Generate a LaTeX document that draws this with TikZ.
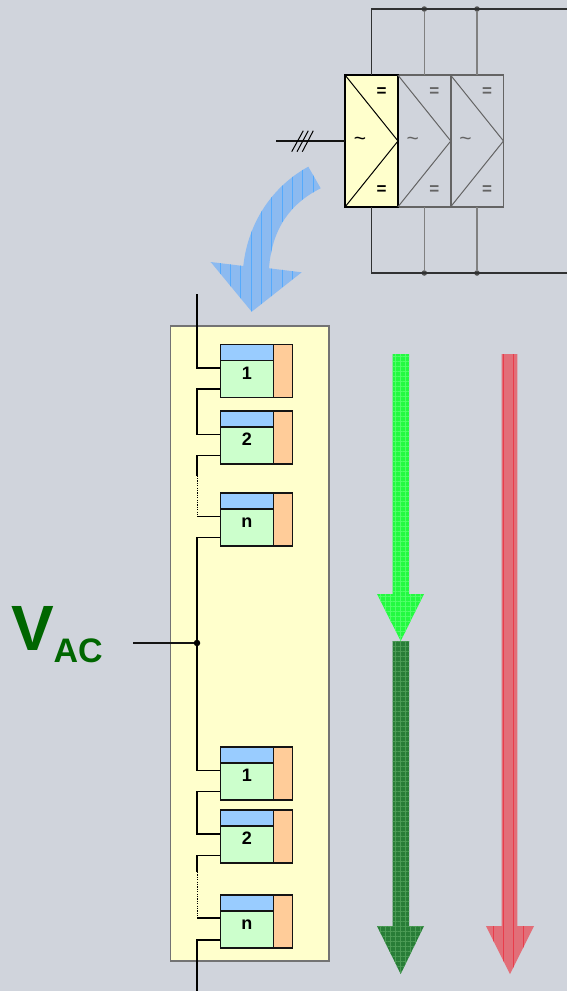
\documentclass[tikz,border=0pt]{standalone}
\usepackage{fontspec}
\setmainfont{Liberation Sans}
\usetikzlibrary{arrows.meta,positioning,patterns.meta}
\definecolor{pagegray}{RGB}{208,212,220}
\definecolor{panelyellow}{RGB}{255,255,204}
\definecolor{bodygreen}{RGB}{204,255,204}
\definecolor{headblue}{RGB}{153,204,255}
\definecolor{sideorange}{RGB}{255,204,153}
\definecolor{lineblack}{RGB}{20,20,20}
\definecolor{linegray}{RGB}{100,100,100}
\definecolor{stubgray}{RGB}{128,128,128}
\definecolor{textgreen}{RGB}{0,102,0}
\definecolor{flowgreen}{RGB}{35,250,65}
\definecolor{flowgreenlt}{RGB}{80,255,105}
\definecolor{flowdark}{RGB}{40,125,55}
\definecolor{flowdarklt}{RGB}{75,155,85}
\definecolor{flowred}{RGB}{226,110,120}
\definecolor{flowredlt}{RGB}{232,128,136}
\definecolor{flowredln}{RGB}{232,60,75}
\definecolor{flowblue}{RGB}{140,186,240}
\definecolor{flowbluelt}{RGB}{150,194,242}
\definecolor{flowblueln}{RGB}{85,170,252}
\tikzset{
  modbody/.style={rectangle, draw=lineblack, fill=bodygreen, line width=1.1pt, inner sep=0pt, outer sep=0pt, minimum width=53pt, minimum height=37pt},
  modhead/.style={rectangle, draw=lineblack, fill=headblue, line width=1.1pt, inner sep=0pt, outer sep=0pt, minimum width=53pt, minimum height=16pt},
  modside/.style={rectangle, draw=lineblack, fill=sideorange, line width=1.1pt, inner sep=0pt, outer sep=0pt, minimum width=19pt, minimum height=53pt, anchor=south west},
  modtext/.style={anchor=base, inner sep=0pt, font=\bfseries\fontsize{18}{18}\selectfont},
  busline/.style={draw=black, line width=1.6pt},
  dotbus/.style={draw=black, line width=1pt, dash pattern=on 1.2pt off 1.2pt},
  invbox/.style={rectangle, line width=1.5pt, inner sep=0pt, outer sep=0pt, minimum width=53pt, minimum height=132pt},
  invsym/.style={inner sep=0pt, font=\bfseries\fontsize{17}{17}\selectfont},
  invwave/.style={inner sep=0pt, font=\fontsize{21}{21}\selectfont},
  railline/.style={draw=lineblack!85!pagegray, line width=1.2pt},
  stubline/.style={draw=stubgray, line width=1.5pt},
  raildot/.style={circle, fill=linegray!80!black, inner sep=0pt, minimum size=5.5pt},
  greenflow/.style={preaction={fill=flowgreen}, pattern={Hatch[angle=0,distance=5pt,line width=0.8pt]}, pattern color=flowgreenlt},
  darkflow/.style={preaction={fill=flowdark}, pattern={Hatch[angle=0,distance=5pt,line width=0.8pt]}, pattern color=flowdarklt},
  redflow/.style={preaction={fill=flowred}, pattern={Lines[angle=90,distance=10.3pt,line width=0.8pt,xshift=-1.5pt]}, pattern color=flowredln},
  blueflow/.style={preaction={fill=flowblue}, pattern={Lines[angle=90,distance=10.3pt,line width=0.8pt,xshift=3.9pt]}, pattern color=flowblueln},
}

\begin{document}
\begin{tikzpicture}[x=1pt,y=-1pt]
\fill[pagegray] (0,0) rectangle (567,991);
\useasboundingbox (0,0) rectangle (567,991);

% converter stack
\node[invbox, draw=linegray] (inv3) at (477,141) {};
\node[invbox, draw=linegray] (inv2) at (424.3,141) {};
\node[invbox, draw=black, fill=panelyellow] (inv1) at (371.5,141) {};
\draw[line width=1pt] (inv1.north west) -- (inv1.east) -- (inv1.south west);
\draw[draw=linegray, line width=1pt] (inv2.north west) -- (inv2.east) -- (inv2.south west);
\draw[draw=linegray, line width=1pt] (inv3.north west) -- (inv3.east) -- (inv3.south west);
\node[invsym] (up1) at ([xshift=10pt,yshift=49pt]inv1.center) {=};
\node[invsym] (dn1) at ([xshift=10pt,yshift=-49pt]inv1.center) {=};
\node[invwave] (ac1) at ([xshift=-11.5pt]inv1.center) {\char"007E};
\node[invsym, text=linegray] (up2) at ([xshift=10pt,yshift=49pt]inv2.center) {=};
\node[invsym, text=linegray] (dn2) at ([xshift=10pt,yshift=-49pt]inv2.center) {=};
\node[invwave, text=linegray] (ac2) at ([xshift=-11.5pt]inv2.center) {\char"007E};
\node[invsym, text=linegray] (up3) at ([xshift=10pt,yshift=49pt]inv3.center) {=};
\node[invsym, text=linegray] (dn3) at ([xshift=10pt,yshift=-49pt]inv3.center) {=};
\node[invwave, text=linegray] (ac3) at ([xshift=-11.5pt]inv3.center) {\char"007E};

% dc rails
\coordinate (railtop) at (567,9);
\coordinate (railbot) at (567,273);
\node[raildot] (dottop2) at (424.3,9) {};
\node[raildot] (dottop3) at (477,9) {};
\node[raildot] (dotbot2) at (424.3,273) {};
\node[raildot] (dotbot3) at (477,273) {};
\draw[stubline] (inv2.north) -- (dottop2);
\draw[stubline] (inv3.north) -- (dottop3);
\draw[stubline] (inv2.south) -- (dotbot2);
\draw[stubline] (inv3.south) -- (dotbot3);
\draw[railline] (inv1.north) |- (railtop);
\draw[railline] (inv1.south) |- (railbot);

% three phase feed
\coordinate (feed) at (276,141);
\draw[draw=lineblack, line width=1.1pt] (feed) -- (inv1.west);
\draw[line width=1pt] (291.7,151.7) -- (303.3,130.7);
\draw[line width=1pt] (297,151.7) -- (308.3,130.7);
\draw[line width=1pt] (302.3,151.7) -- (313.3,130.7);

% curved arrow
\path[blueflow] (308.3,166.7) -- (320.7,188.3) .. controls (291,203) and (272,228) .. (269,268.3)
  -- (301.7,272.3) -- (251.7,311.7) -- (210.7,262) -- (243.3,266)
  .. controls (248,222) and (273,186) .. cycle;

% panel
\node[rectangle, draw=stubgray!90!black, fill=panelyellow, line width=1.1pt, inner sep=0pt, minimum width=158.5pt, minimum height=635pt] (panel) at (249.7,643.5) {};

% upper string
\node[modbody] (bodyA) at (246.9,379.2) {};
\node[modhead, above=0pt of bodyA] (headA) {};
\node[modside] (sideA) at (bodyA.south east) {};
\node[modtext] (numA) at (bodyA.center) {1};
\node[modbody] (bodyB) at (246.9,445.5) {};
\node[modhead, above=0pt of bodyB] (headB) {};
\node[modside] (sideB) at (bodyB.south east) {};
\node[modtext] (numB) at (bodyB.center) {2};
\node[modbody] (bodyC) at (246.9,527.5) {};
\node[modhead, above=0pt of bodyC] (headC) {};
\node[modside] (sideC) at (bodyC.south east) {};
\node[modtext] (numC) at (bodyC.center) {n};

% lower string
\node[modbody] (bodyD) at (246.9,781.5) {};
\node[modhead, above=0pt of bodyD] (headD) {};
\node[modside] (sideD) at (bodyD.south east) {};
\node[modtext] (numD) at (bodyD.center) {1};
\node[modbody] (bodyE) at (246.9,844.5) {};
\node[modhead, above=0pt of bodyE] (headE) {};
\node[modside] (sideE) at (bodyE.south east) {};
\node[modtext] (numE) at (bodyE.center) {2};
\node[modbody] (bodyF) at (246.9,929.5) {};
\node[modhead, above=0pt of bodyF] (headF) {};
\node[modside] (sideF) at (bodyF.south east) {};
\node[modtext] (numF) at (bodyF.center) {n};

% series wiring
\coordinate (busin) at (197,294);
\coordinate (busout) at (197,991);
\draw[busline] (busin) |- ([yshift=11pt]bodyA.west);
\draw[busline] ([yshift=-10pt]bodyA.west) -- ++(-23.4,0) |- ([yshift=11pt]bodyB.west);
\draw[busline] ([yshift=-10pt]bodyB.west) -- ++(-23.4,0) -- ++(0,20) coordinate (gapA);
\coordinate (endA) at ([yshift=11pt]bodyC.west);
\draw[dotbus] (gapA) -- (gapA |- endA);
\draw[busline] (gapA |- endA) -- (endA);
\draw[busline] ([yshift=-10pt]bodyC.west) -- ++(-23.4,0) |- ([yshift=11pt]bodyD.west);
\draw[busline] ([yshift=-10pt]bodyD.west) -- ++(-23.4,0) |- ([yshift=10.5pt]bodyE.west);
\draw[busline] ([yshift=-11pt]bodyE.west) -- ++(-23.4,0) -- ++(0,16.5) coordinate (gapB);
\coordinate (endB) at ([yshift=11.5pt]bodyF.west);
\draw[dotbus] (gapB) -- (gapB |- endB);
\draw[busline] (gapB |- endB) -- (endB);
\draw[busline] ([yshift=-10.5pt]bodyF.west) -| (busout);

% ac input
\node[circle, fill=black, inner sep=0pt, minimum size=6.5pt] (tap) at (197,643) {};
\coordinate (acfree) at (133,643);
\draw[draw=lineblack, line width=1.3pt] (acfree) -- (tap);
\node[anchor=base west, inner sep=0pt, text=textgreen, font=\bfseries\fontsize{64}{64}\selectfont] (vsym) at (11,650) {V};
\node[anchor=base west, inner sep=0pt, text=textgreen, font=\bfseries\fontsize{34}{34}\selectfont] (vsub) at (53.5,662) {AC};

% flow arrows
\path[greenflow] (392.5,354) -- (409,354) -- (409,594) -- (424,594) -- (400.7,641) -- (377,594) -- (392.5,594) -- cycle;
\path[darkflow] (392.5,641) -- (409,641) -- (409,926) -- (424,926) -- (400.7,974) -- (377,926) -- (392.5,926) -- cycle;
\path[redflow] (501.7,354) -- (517.3,354) -- (517.3,926) -- (534,926) -- (510,974) -- (486,926) -- (501.7,926) -- cycle;
\end{tikzpicture}
\end{document}
